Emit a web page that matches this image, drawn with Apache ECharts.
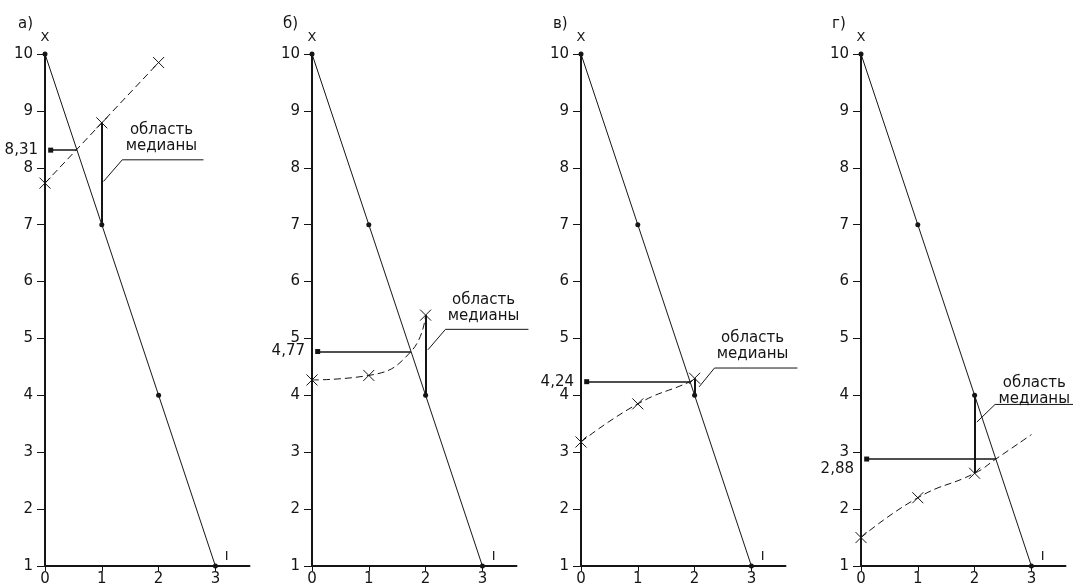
<!DOCTYPE html>
<html><head><meta charset="utf-8">
<script src="https://cdn.jsdelivr.net/npm/echarts@6/dist/echarts.min.js"></script>
<style>html,body{margin:0;padding:0;background:#fff}#c{width:1073px;height:587px}</style>
</head><body><div id="c"></div><script>
// ---- data ----
const panelLabels = ['а)', 'б)', 'в)', 'г)'];
const xTicks = [0, 1, 2, 3];
const yTicks = [1, 2, 3, 4, 5, 6, 7, 8, 9, 10];
const solidX = [0, 1, 2, 3];
const solidY = [10, 7, 4, 1];
// dashed curves: [x, y], and whether the point carries an X marker
const curveA = [[0, 7.73], [1, 8.79], [2, 9.85]];
const curveB = [[0, 4.27], [1, 4.35], [1.743, 4.77], [2, 5.41]];
const curveC = [[0, 3.18], [1, 3.85], [1.92, 4.24], [2, 4.30]];
const curveD = [[0, 1.50], [1, 2.20], [2, 2.63], [2.373, 2.88], [3, 3.31]];
const markA = [1, 1, 1];
const markB = [1, 1, 0, 1];
const markC = [1, 1, 0, 1];
const markD = [1, 1, 1, 0, 0];
const medianValues = [8.31, 4.77, 4.24, 2.88];
const medianLabels = ['8,31', '4,77', '4,24', '2,88'];
const crossX = [0.56, 1.743, 1.92, 2.373];
const areaX = [1, 2, 2, 2];
const areaLow = [7, 4, 4, 2.63];
const areaHigh = [8.79, 5.41, 4.30, 4];
const areaText = 'область\nмедианы';
const axisNameY = 'X';
const axisNameX = 'I';

// ---- layout (annotation placement) ----
const curves = [curveA, curveB, curveC, curveD];
const marks = [markA, markB, markC, markD];
const gridLefts = [45, 312, 581, 861];
const titleLefts = [13, 278, 548, 827];
const leaders = [
  [[2.79, 8.14], [1.36, 8.14], [1.03, 7.76]],
  [[3.81, 5.16], [2.35, 5.16], [2.04, 4.80]],
  [[3.81, 4.48], [2.35, 4.48], [2.08, 4.15]],
  [[3.74, 3.84], [2.36, 3.84], [2.04, 3.53]]
];
const textPos = [[2.05, 8.52], [3.02, 5.53], [3.02, 4.87], [3.05, 4.07]];
const labelOffsetY = [0, 0, 0, 10];

const INK = '#151515';
const FONT = '"DejaVu Sans", "Liberation Sans", sans-serif';
const XPATH = 'path://M0,0L10,10M10,0L0,10';

const grid = [], xAxis = [], yAxis = [], series = [], title = [];
for (let i = 0; i < 4; i++) {
  title.push({ text: panelLabels[i], left: titleLefts[i], top: 12,
    textStyle: { fontSize: 15, fontWeight: 'normal', color: INK, fontFamily: FONT } });
  grid.push({ left: gridLefts[i], top: 54, width: 204.5, height: 512 });
  xAxis.push({
    gridIndex: i, type: 'value', min: 0, max: 3.6, interval: 1,
    axisLine: { onZero: false, lineStyle: { color: INK, width: 2 } },
    axisTick: { length: 5, customValues: xTicks, lineStyle: { color: INK, width: 1 } },
    axisLabel: { customValues: xTicks, margin: 6, fontSize: 15, color: INK, fontFamily: FONT,
      formatter: v => (Number.isInteger(v) ? String(v) : '') },
    splitLine: { show: false }
  });
  yAxis.push({
    gridIndex: i, type: 'value', min: 1, max: 10, interval: 1,
    name: axisNameY, nameLocation: 'end', nameGap: 10,
    nameTextStyle: { fontSize: 13, color: INK, fontFamily: FONT },
    axisLine: { onZero: false, lineStyle: { color: INK, width: 2 } },
    axisTick: { length: 8, customValues: yTicks, lineStyle: { color: INK, width: 1 } },
    axisLabel: { customValues: yTicks, margin: 12, fontSize: 15, color: INK, fontFamily: FONT },
    splitLine: { show: false }
  });
  // solid line with dots
  series.push({
    type: 'line', xAxisIndex: i, yAxisIndex: i,
    data: solidX.map((x, k) => [x, solidY[k]]),
    symbol: 'circle', symbolSize: 5, showSymbol: true,
    lineStyle: { color: INK, width: 1 }, itemStyle: { color: INK },
    silent: true, z: 3
  });
  // dashed curve with X markers
  series.push({
    type: 'line', xAxisIndex: i, yAxisIndex: i, smooth: i > 0 ? 0.5 : false,
    data: curves[i].map((p, k) => ({ value: p, symbol: marks[i][k] ? XPATH : 'none' })),
    symbolSize: 11, showSymbol: true,
    lineStyle: { color: INK, width: 1, type: [7, 4] },
    itemStyle: { color: 'none', borderColor: INK, borderWidth: 1 },
    silent: true, z: 3
  });
  // median horizontal pointer
  series.push({
    type: 'lines', coordinateSystem: 'cartesian2d', xAxisIndex: i, yAxisIndex: i,
    clip: false, symbol: ['none', 'rect'], symbolSize: 5,
    lineStyle: { color: INK, width: 1.5, opacity: 1 },
    data: [{ coords: [[crossX[i], medianValues[i]], [0.1, medianValues[i]]] }],
    silent: true, z: 4
  });
  // median area vertical
  series.push({
    type: 'lines', coordinateSystem: 'cartesian2d', xAxisIndex: i, yAxisIndex: i,
    clip: false, lineStyle: { color: INK, width: 2, opacity: 1 },
    data: [{ coords: [[areaX[i], areaLow[i]], [areaX[i], areaHigh[i]]] }],
    silent: true, z: 4
  });
  // leader
  series.push({
    type: 'lines', coordinateSystem: 'cartesian2d', xAxisIndex: i, yAxisIndex: i,
    clip: false, polyline: true, symbol: ['none', 'arrow'], symbolSize: 6,
    lineStyle: { color: INK, width: 1, opacity: 1 },
    data: [{ coords: leaders[i] }],
    silent: true, z: 4
  });
  // texts
  series.push({
    type: 'scatter', xAxisIndex: i, yAxisIndex: i, symbolSize: 0, clip: false, silent: true,
    itemStyle: { opacity: 1 },
    data: [
      { value: [0, medianValues[i]], label: { show: true, position: 'left', distance: 7,
          offset: [0, labelOffsetY[i]], formatter: medianLabels[i], fontSize: 15, color: INK, fontFamily: FONT } },
      { value: textPos[i], label: { show: true, position: 'inside', formatter: areaText,
          fontSize: 15, lineHeight: 16, color: INK, fontFamily: FONT, align: 'center' } },
      { value: [3.2, 1.17], label: { show: true, position: 'inside', formatter: axisNameX,
          fontSize: 13, color: INK, fontFamily: FONT } }
    ]
  });
}

const chart = echarts.init(document.getElementById('c'), null, { renderer: 'canvas' });
chart.setOption({ animation: false, backgroundColor: '#fff', title, grid, xAxis, yAxis, series });
</script></body></html>
